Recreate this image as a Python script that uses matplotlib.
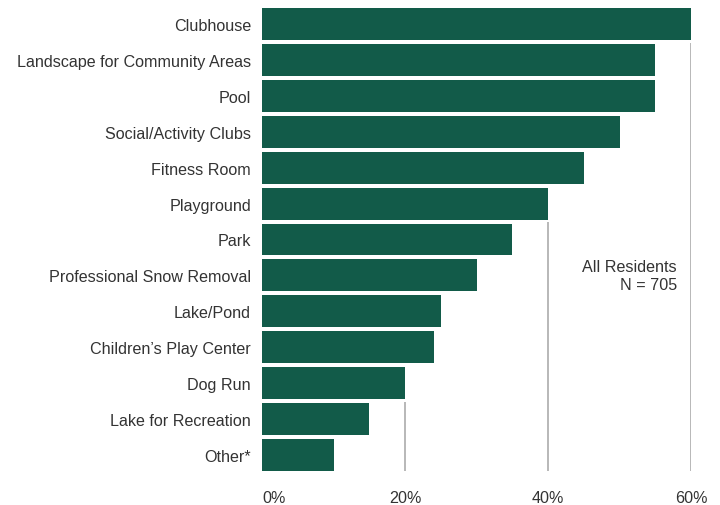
import matplotlib.pyplot as plt
import numpy as np

plt.rcParams['font.family'] = ['Liberation Sans', 'DejaVu Sans']

# amenity share, all residents (percent)
amenities = ['Clubhouse', 'Landscape for Community Areas', 'Pool',
             'Social/Activity Clubs', 'Fitness Room', 'Playground', 'Park',
             'Professional Snow Removal', 'Lake/Pond',
             'Children\u2019s Play Center', 'Dog Run', 'Lake for Recreation',
             'Other*']
shares = [60, 55, 55, 50, 45, 40, 35, 30, 25, 24, 20, 15, 10]
ticks = [0, 20, 40, 60]
tick_labels = ['0%', '20%', '40%', '60%']

bar_color = '#125b49'
text_color = '#333333'
bar_h = 0.89
fs = 11.6

fig = plt.figure(figsize=(7.2, 5.06), dpi=100)
ax = fig.add_axes([262/720, 1 - 472/506, (691-262)/720, (472-9)/506])

y = np.arange(len(amenities))
ax.barh(y, shares, height=bar_h, color=bar_color, zorder=2)
ax.set_ylim(len(amenities) - 1 + bar_h/2, -bar_h/2)
ax.set_xlim(0, 60)

# gridlines only below the last bar that reaches each tick
for t in ticks[1:]:
    reach = [i for i, v in enumerate(shares) if v >= t]
    top = reach[-1] + bar_h/2 + 0.08 if reach else -bar_h/2
    ax.vlines(t, top, len(amenities) - 1 + bar_h/2, color='#b8b8b8',
              linewidth=1.4, zorder=1)

ax.set_yticks(y)
ax.set_yticklabels(amenities, fontsize=fs, color=text_color)
ax.set_xticks(ticks)
ax.set_xticklabels(tick_labels, fontsize=fs, color=text_color)
ax.get_xticklabels()[0].set_ha('left')
ax.tick_params(axis='y', length=0, pad=8)
ax.tick_params(axis='x', length=0, pad=14)
for s in ax.spines.values():
    s.set_visible(False)

ax.text(58.0, 7.0, 'All Residents\nN = 705', ha='right', va='center',
        fontsize=fs, color=text_color, linespacing=1.2)

fig.savefig('out.png', dpi=100)
